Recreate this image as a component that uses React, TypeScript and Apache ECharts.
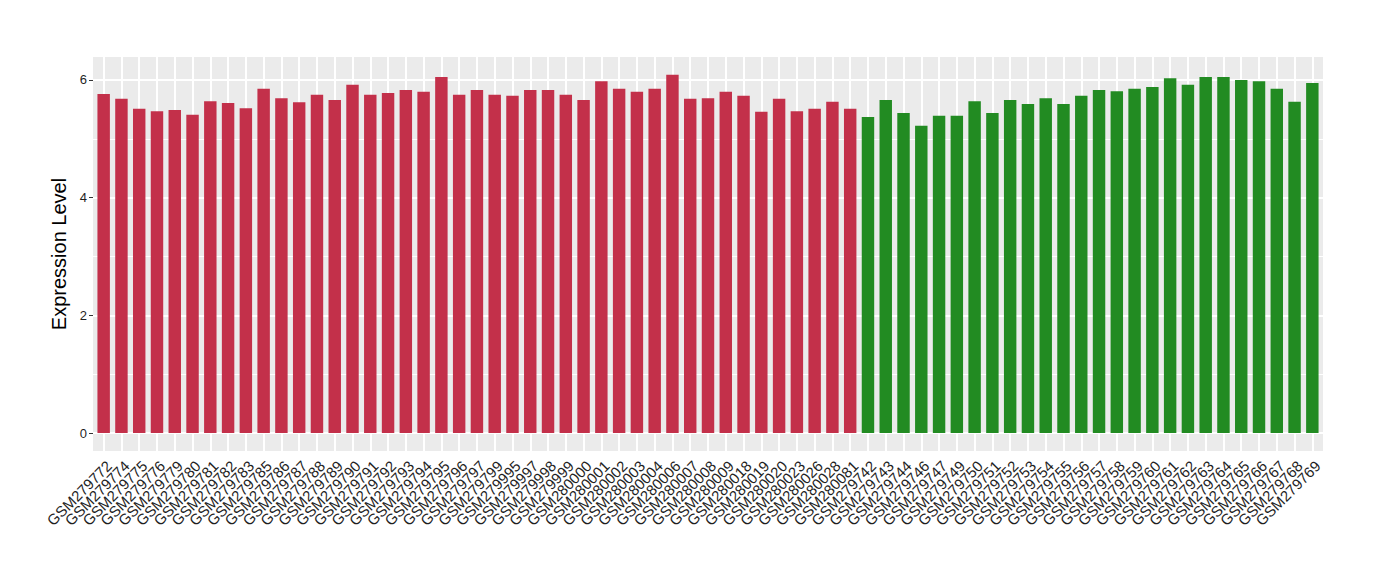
import React, { useEffect, useRef } from "react";
import * as echarts from "echarts";

const redSamples = [
  "GSM279772", "GSM279774", "GSM279775", "GSM279776", "GSM279779", "GSM279780", "GSM279781", "GSM279782", "GSM279783", "GSM279785",
  "GSM279786", "GSM279787", "GSM279788", "GSM279789", "GSM279790", "GSM279791", "GSM279792", "GSM279793", "GSM279794", "GSM279795",
  "GSM279796", "GSM279797", "GSM279799", "GSM279995", "GSM279997", "GSM279998", "GSM279999", "GSM280000", "GSM280001", "GSM280002",
  "GSM280003", "GSM280004", "GSM280006", "GSM280007", "GSM280008", "GSM280009", "GSM280018", "GSM280019", "GSM280020", "GSM280023",
  "GSM280026", "GSM280028", "GSM280081",
];
const redValues = [
  5.76, 5.68, 5.51, 5.47, 5.49, 5.41, 5.64, 5.61, 5.52, 5.85,
  5.69, 5.62, 5.75, 5.66, 5.92, 5.75, 5.78, 5.83, 5.8, 6.05,
  5.75, 5.83, 5.75, 5.73, 5.83, 5.83, 5.75, 5.66, 5.98, 5.85,
  5.8, 5.85, 6.09, 5.68, 5.69, 5.8, 5.73, 5.46, 5.68, 5.47,
  5.51, 5.63, 5.51,
];
const greenSamples = [
  "GSM279742", "GSM279743", "GSM279744", "GSM279746", "GSM279747", "GSM279749", "GSM279750", "GSM279751", "GSM279752", "GSM279753",
  "GSM279754", "GSM279755", "GSM279756", "GSM279757", "GSM279758", "GSM279759", "GSM279760", "GSM279761", "GSM279762", "GSM279763",
  "GSM279764", "GSM279765", "GSM279766", "GSM279767", "GSM279768", "GSM279769",
];
const greenValues = [
  5.37, 5.66, 5.44, 5.22, 5.39, 5.39, 5.64, 5.44, 5.66, 5.59,
  5.69, 5.59, 5.73, 5.83, 5.81, 5.85, 5.88, 6.03, 5.92, 6.05,
  6.05, 6.0, 5.98, 5.85, 5.63, 5.95,
];
const yMajorTicks = [0, 2, 4, 6];
const yMinorTicks = [1, 3, 5];

const RED = "#C3304A";
const GREEN = "#228B22";
const FONT = "'Liberation Sans', Arial, Helvetica, sans-serif";
const LABEL_COLOR = "#1F1F1F";

export default function App() {
  const ref = useRef<HTMLDivElement>(null);

  useEffect(() => {
    if (!ref.current) return;
    const chart = echarts.init(ref.current, null, { renderer: "svg" });

    const categories = [...redSamples, ...greenSamples];
    const barData = [
      ...redValues.map((v) => ({ value: v, itemStyle: { color: RED } })),
      ...greenValues.map((v) => ({ value: v, itemStyle: { color: GREEN } })),
    ];

    const yMax = 6.39;
    const yMin = -0.304;
    const panelLeft = 93;
    const panelRight = 57;
    const panelW = 1380 - panelLeft - panelRight;
    const unit = panelW / (categories.length - 1 + 1.2);
    const pad = 0.1 * unit;

    chart.setOption({
      animation: false,
      textStyle: { fontFamily: FONT },
      grid: [
        {
          left: panelLeft,
          right: panelRight,
          top: 57,
          bottom: 129,
          show: true,
          backgroundColor: "#EBEBEB",
          borderWidth: 0,
          containLabel: false,
          outerBoundsMode: "none",
        },
        {
          left: panelLeft + pad,
          right: panelRight + pad,
          top: 57,
          bottom: 129,
          containLabel: false,
          outerBoundsMode: "none",
        },
      ],
      xAxis: [
        { gridIndex: 0, type: "value", min: 0, max: 1, show: false },
        {
          gridIndex: 1,
          type: "category",
          data: categories,
          boundaryGap: true,
          axisLine: { show: false },
          axisTick: { show: true, alignWithLabel: true, length: 4, lineStyle: { color: "#333333", width: 1 } },
          axisLabel: {
            interval: 0,
            rotate: 45,
            color: LABEL_COLOR,
            fontSize: 15,
            fontFamily: FONT,
            margin: 7,
            align: "right",
            verticalAlign: "top",
          },
          splitLine: { show: false },
        },
      ],
      yAxis: [
        {
          gridIndex: 0,
          type: "value",
          min: yMin,
          max: yMax,
          name: "Expression Level",
          nameLocation: "middle",
          nameGap: 21,
          nameTextStyle: { fontSize: 20, color: "#000000", fontFamily: FONT },
          axisLine: { show: false },
          axisTick: { show: true, length: 4, customValues: yMajorTicks, lineStyle: { color: "#333333" } },
          axisLabel: { customValues: yMajorTicks, color: LABEL_COLOR, fontSize: 13, margin: 6, fontFamily: FONT },
          splitLine: { show: false },
        },
        { gridIndex: 1, type: "value", min: yMin, max: yMax, show: false, splitLine: { show: false } },
      ],
      series: [
        {
          type: "line",
          xAxisIndex: 0,
          yAxisIndex: 0,
          data: [],
          z: 1,
          silent: true,
          markLine: {
            z: 1,
            silent: true,
            symbol: ["none", "none"],
            label: { show: false },
            animation: false,
            data: [
              ...yMinorTicks.map((v) => ({ yAxis: v, lineStyle: { color: "#FFFFFF", width: 1, type: "solid" } })),
              ...yMajorTicks.map((v) => ({ yAxis: v, lineStyle: { color: "#FFFFFF", width: 2, type: "solid" } })),
            ],
          },
        },
        {
          type: "line",
          xAxisIndex: 1,
          yAxisIndex: 1,
          data: [],
          z: 1,
          silent: true,
          markLine: {
            z: 1,
            silent: true,
            symbol: ["none", "none"],
            label: { show: false },
            animation: false,
            data: categories.map((_, i) => ({ xAxis: i, lineStyle: { color: "#FFFFFF", width: 2, type: "solid" } })),
          },
        },
        {
          type: "bar",
          xAxisIndex: 1,
          yAxisIndex: 1,
          data: barData,
          barWidth: "70%",
          z: 3,
        },
      ],
    });

    return () => chart.dispose();
  }, []);

  return <div ref={ref} style={{ width: 1380, height: 580, position: "absolute", left: 0, top: 0 }} />;
}
